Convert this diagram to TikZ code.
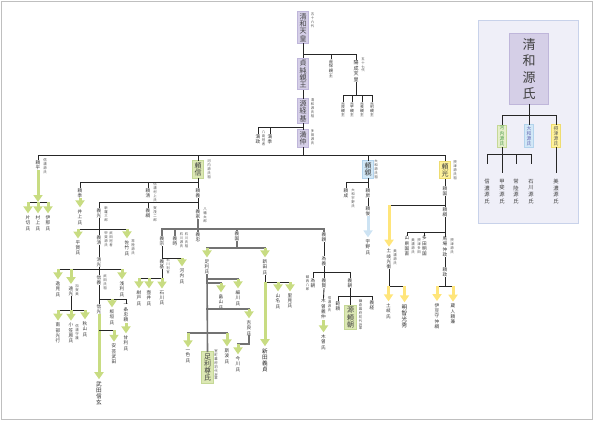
\documentclass[tikz,border=0pt]{standalone}
\usepackage{fontspec}
\setmainfont{Noto Sans CJK JP}
\usetikzlibrary{arrows.meta}
\definecolor{lav}{HTML}{D5CFE7}
\definecolor{lavd}{HTML}{BFB6DA}
\definecolor{grn}{HTML}{DCE8B4}
\definecolor{grnd}{HTML}{C5D896}
\definecolor{blu}{HTML}{D2E8F7}
\definecolor{blud}{HTML}{B3D3EC}
\definecolor{yel}{HTML}{FFF29C}
\definecolor{yeld}{HTML}{EEDC70}
\definecolor{garr}{HTML}{C8DC82}
\definecolor{yarr}{HTML}{FFE57A}
\definecolor{barr}{HTML}{CDE3F3}
\definecolor{panel}{HTML}{EFEFF8}
\definecolor{paneld}{HTML}{C8D2EA}
\makeatletter
\def\vtx#1{\vbox{\lineskiplimit=-20pt\relax\vtx@a#1\relax}}
\def\vtx@a#1{\ifx\relax#1\else\hbox to 1em{\hss#1\hss}\expandafter\vtx@a\fi}
\makeatother
\newcommand\kin[6][ln]{%
  \draw[#1] (#2.south) -- (#2.south |- 0,#3);
  \draw[#1] (#4.center |- 0,#3) -- (#5.center |- 0,#3);
  \foreach \c/\s in {#6}{\edef\kintmp{\noexpand\draw[\s] (\c.center |- 0,#3) -- (\c.north);}\kintmp}%
}
\tikzset{
  ln/.style={draw=black!85, line width=0.85pt, line cap=rect},
  gln/.style={draw=black!55, line width=1.6pt, line cap=rect},
  tk/.style={ln, shorten >=15pt},
  tkm/.style={ln, shorten >=6pt},
  ga/.style={draw=garr, line width=3pt, -{Triangle[width=9pt,length=7pt]}, shorten >=1.5pt},
  ya/.style={ga, draw=yarr},
  ba/.style={ga, draw=barr},
  nm/.style={inner sep=0.5pt, text=black!80, font=\fontsize{4.6}{5.3}\selectfont},
  nt/.style={inner sep=0.3pt, text=black!70, font=\fontsize{3.4}{3.9}\selectfont},
  bg/.style={inner sep=0.5pt, text=black!85, font=\fontsize{5.6}{6}\selectfont},
  pn/.style={inner sep=0.5pt, text=black!75, font=\fontsize{5.3}{6.7}\selectfont},
  bxbase/.style={line width=0.7pt, inner xsep=2.3pt, inner ysep=1.8pt, text=black!75, font=\fontsize{7}{7.3}\selectfont},
  lavbox/.style={bxbase, fill=lav, draw=lavd},
  grnbox/.style={bxbase, fill=grn, draw=grnd},
  blubox/.style={bxbase, fill=blu, draw=blud},
  yelbox/.style={bxbase, fill=yel, draw=yeld},
  smbox/.style={line width=0.6pt, inner xsep=2.2pt, inner ysep=1.2pt, font=\fontsize{4.8}{5.2}\selectfont}
}
\begin{document}
\begin{tikzpicture}[x=1pt,y=-1pt]
\useasboundingbox (0,0) rectangle (594,421);
\draw[black!25, line width=1.4pt] (1.5,1.5) rectangle (592.5,419.5);
% ---------- right panel ----------
\draw[fill=panel, draw=paneld, line width=0.9pt] (478,20) rectangle (578,223);
\node[lavbox, inner xsep=13pt, inner ysep=4.5pt, font=\fontsize{13}{16.5}\selectfont] (genji) at (529,69) {\vtx{清和源氏}};
\node[smbox, fill=grn!70, draw=grnd, text=green!45!black!70] (kawachi) at (502,136) {\vtx{河内源氏}};
\node[smbox, fill=blu, draw=blud, text=blue!50!black!60] (yamato) at (529,136) {\vtx{大和源氏}};
\node[smbox, fill=yel, draw=yeld, text=black!65] (settsu) at (556,136) {\vtx{摂津源氏}};
\node[pn] (shinano) at (487,191.5) {\vtx{信濃源氏}};
\node[pn] (kai) at (502,191.5) {\vtx{甲斐源氏}};
\node[pn] (hitachi) at (516,191.5) {\vtx{常陸源氏}};
\node[pn] (ishikawa) at (531,191.5) {\vtx{石川源氏}};
\node[pn] (mino) at (556,191.5) {\vtx{美濃源氏}};
\kin{genji}{115}{kawachi}{settsu}{kawachi/ln, yamato/ln, settsu/ln}
\kin{kawachi}{154}{shinano}{ishikawa}{shinano/tk, kai/tkm, hitachi/tk, ishikawa/tk}
\draw[tkm] (settsu.south) -- (mino.north);
% ---------- top trunk ----------
\node[lavbox] (seiwa) at (303,27.5) {\vtx{清和天皇}};
\node[nt] (seiwaN) at (312.5,20.5) {\vtx{五十六代}};
\node[lavbox] (sadazumi) at (303,74) {\vtx{貞純親王}};
\node[lavbox] (tsunemoto) at (303,111) {\vtx{源経基}};
\node[nt] (tsunemotoN) at (312.5,108) {\vtx{清和源氏祖}};
\node[lavbox] (mitsunaka) at (303,138.5) {\vtx{満仲}};
\node[nt] (mitsunakaN) at (312.5,137) {\vtx{多田源氏}};
\node[nm, font=\fontsize{4.2}{4.6}\selectfont] (sadayasu) at (331,68.5) {\vtx{貞保親王}};
\node[nm, font=\fontsize{5}{5.5}\selectfont] (yozei) at (356,71) {\vtx{陽成天皇}};
\node[nt] (yozeiN) at (363,65) {\vtx{五十七代}};
\node[nm, font=\fontsize{3.8}{3.9}\selectfont] (moto1) at (343,109.5) {\vtx{元良親王}};
\node[nm, font=\fontsize{3.8}{3.9}\selectfont] (moto2) at (352,109.5) {\vtx{元平親王}};
\node[nm, font=\fontsize{3.8}{3.9}\selectfont] (moto3) at (362,109.5) {\vtx{元長親王}};
\node[nm, font=\fontsize{3.8}{3.9}\selectfont] (moto4) at (372,109.5) {\vtx{元利親王}};
\node[nm] (mitsumasa) at (258,139) {\vtx{満政}};
\node[nt] (mitsumasaN) at (263.5,138) {\vtx{八島冠者}};
\node[nm] (mitsusue) at (270,139) {\vtx{満季}};
\kin{seiwa}{54}{sadazumi}{yozei}{sadazumi/ln, sadayasu/ln, yozei/ln}
\kin{yozei}{95}{moto1}{moto4}{moto1/ln, moto2/ln, moto3/ln, moto4/ln}
\draw[ln] (sadazumi.south) -- (tsunemoto.north);
\kin{tsunemoto}{127}{mitsumasa}{tsunemoto}{mitsumasa/ln, mitsusue/ln, mitsunaka/ln}
% ---------- sons of Mitsunaka ----------
\node[nm] (yorihira) at (38,165) {\vtx{頼平}};
\node[nt] (yorihiraN) at (45,166) {\vtx{信濃源氏}};
\node[grnbox] (yorinobu) at (198,169.5) {\vtx{頼信}};
\node[nt] (yorinobuN) at (209,169) {\vtx{河内源氏祖}};
\node[blubox] (yorichika) at (368,169.5) {\vtx{頼親}};
\node[nt] (yorichikaN) at (376,169) {\vtx{大和源氏祖}};
\node[yelbox] (yorimitsu) at (445,170) {\vtx{頼光}};
\node[nt] (yorimitsuN) at (455,170) {\vtx{摂津源氏祖}};
\kin{mitsunaka}{155}{yorihira}{yorimitsu}{yorihira/ln, yorinobu/ln, yorichika/ln, yorimitsu/ln}
% leftmost branch
\coordinate (yhb) at (38,202);
\node[nm] (katagiri) at (28,223) {\vtx{片切氏}};
\node[nm] (murakami) at (38,223) {\vtx{村上氏}};
\node[nm] (ina) at (48,223) {\vtx{伊那氏}};
\draw[ga, shorten >=0pt] (yorihira.south) -- (yhb);
\draw[ln] (katagiri.center |- yhb) -- (ina.center |- yhb);
\draw[ga] (katagiri.center |- yhb) -- (katagiri.north);
\draw[ga] (murakami.center |- yhb) -- (murakami.north);
\draw[ga] (ina.center |- yhb) -- (ina.north);
% ---------- Kawachi ----------
\node[nm] (yorisue) at (80,193) {\vtx{頼季}};
\node[nm] (inoue) at (80,217) {\vtx{井上氏}};
\node[nm] (yorikiyo) at (148,193) {\vtx{頼清}};
\node[nt] (yorikiyoN) at (155,192) {\vtx{信濃村上氏}};
\node[nm] (yoriyoshi) at (198,193) {\vtx{頼義}};
\kin{yorinobu}{182}{yorisue}{yoriyoshi}{yorisue/ln, yorikiyo/ln, yoriyoshi/ln}
\draw[ga] (yorisue.south) -- (inoue.north);
\node[nm] (yoshimitsu) at (99,213) {\vtx{義光}};
\node[nt] (yoshimitsuN) at (106,214) {\vtx{新羅三郎}};
\node[nm] (yoshitsuna) at (148,213) {\vtx{義綱}};
\node[nt] (yoshitsunaN) at (155,214) {\vtx{賀茂二郎}};
\node[nm] (yoshiie) at (198,214) {\vtx{義家}};
\node[nt] (yoshiieN) at (205,215) {\vtx{八幡太郎}};
\kin{yoriyoshi}{202}{yoshimitsu}{yoshiie}{yoshimitsu/ln, yoshitsuna/ln, yoshiie/ln}
% Yoshimitsu line
\node[nm] (hiraga) at (78,248) {\vtx{平賀氏}};
\node[nm] (yoshikiyo) at (99,240) {\vtx{義清}};
\node[nt] (yoshikiyoN) at (106,239) {\vtx{甲斐源氏}};
\node[nt] (yoshikiyoM) at (111,239) {\vtx{武田冠者}};
\node[nm] (satake) at (127,248) {\vtx{佐竹氏}};
\node[nt] (satakeN) at (133,247) {\vtx{常陸源氏}};
\kin{yoshimitsu}{229}{hiraga}{satake}{hiraga/ga, yoshikiyo/ln, satake/ga}
\node[nm] (kiyomitsu) at (99,262) {\vtx{清光}};
\draw[ln] (yoshikiyo.south) -- (kiyomitsu.north);
\node[nm] (henmi) at (58,289) {\vtx{逸見氏}};
\node[nm] (kagami) at (71,291) {\vtx{遠光}};
\node[nt] (kagamiN) at (77,290) {\vtx{加賀美}};
\node[nm] (nobuyoshi) at (99,280) {\vtx{信義}};
\node[nt] (nobuyoshiN) at (105,282) {\vtx{武田氏祖}};
\node[nm] (asari) at (122,289) {\vtx{浅利氏}};
\kin{kiyomitsu}{269}{henmi}{asari}{henmi/ga, kagami/ga, nobuyoshi/ln, asari/ga}
\node[nm] (nanbu) at (58,333) {\vtx{南部光行}};
\node[nm] (ogasawara) at (71,333) {\vtx{小笠原氏}};
\node[nt] (ogasawaraN) at (77,332) {\vtx{信濃守護}};
\node[nm] (akiyama) at (85,329) {\vtx{秋山氏}};
\kin{kagami}{310}{nanbu}{akiyama}{nanbu/ga, ogasawara/ga, akiyama/ga}
\node[nm] (nobumitsu) at (99,309) {\vtx{信光}};
\node[nm] (itagaki) at (112,317) {\vtx{板垣氏}};
\node[nm] (ichijo) at (126,313) {\vtx{一条忠頼}};
\node[nm] (amari) at (126,343) {\vtx{甘利氏}};
\kin{nobuyoshi}{299}{nobumitsu}{ichijo}{nobumitsu/ln, itagaki/ga, ichijo/ln}
\draw[ga] (ichijo.south) -- (amari.north);
\node[bg] (shingen) at (99,393) {\vtx{武田信玄}};
\node[nm] (aki) at (114,354) {\vtx{安芸武田}};
\draw[ga] (nobumitsu.south) -- (shingen.north);
\draw[ln] (nobumitsu.south |- 0,330) -- (aki.center |- 0,330);
\draw[ga] (aki.center |- 0,330) -- (aki.north);
% Yoshiie line
\node[nm] (yoshimune) at (162,241) {\vtx{義宗}};
\node[nm] (yoshitoki) at (175,241) {\vtx{義時}};
\node[nt] (yoshitokiN) at (181.5,240) {\vtx{石川源氏}};
\node[nt] (yoshitokiM) at (186.5,240) {\vtx{石川氏祖}};
\node[nm] (yoshitada) at (198,237) {\vtx{義忠}};
\node[nm] (yoshikuni) at (237,236) {\vtx{義国}};
\node[nm] (yoshichika) at (324,237) {\vtx{義親}};
\kin[gln]{yoshiie}{229}{yoshimune}{yoshichika}{yoshimune/gln, yoshitoki/gln, yoshitada/gln, yoshikuni/gln, yoshichika/gln}
\node[nm] (yoshimoto) at (162,264) {\vtx{義基}};
\node[nt] (yoshimotoN) at (168,266) {\vtx{石川判官}};
\node[nm] (kawachiuji) at (182,276) {\vtx{河内氏}};
\kin{yoshimune}{258}{yoshimoto}{kawachiuji}{yoshimoto/ln, kawachiuji/ga}
\node[nm] (konto) at (139,298) {\vtx{紺戸氏}};
\node[nm] (tsuboi) at (149,298) {\vtx{壺井氏}};
\node[nm] (ishikawauji) at (162,298) {\vtx{石川氏}};
\kin{yoshimoto}{278}{konto}{ishikawauji}{konto/ga, tsuboi/ga, ishikawauji/ga}
% Yoshikuni: Ashikaga and Nitta
\node[nm] (ashikaga) at (207,267) {\vtx{足利氏}};
\node[nm] (nitta) at (265,267) {\vtx{新田氏}};
\kin[gln]{yoshikuni}{248}{ashikaga}{nitta}{ashikaga/ga, nitta/ga}
\node[grnbox] (takauji) at (207.5,367.5) {\vtx{足利尊氏}};
\node[nt] (takaujiN) at (216,365) {\vtx{室町幕府初代将軍}};
\node[nm] (hatakeyama) at (221,302) {\vtx{畠山氏}};
\node[nm] (hosokawa) at (238,298) {\vtx{細川氏}};
\node[nm] (kira) at (249,328) {\vtx{吉良氏}};
\node[nm] (imagawa) at (238,364) {\vtx{今川氏}};
\node[nm] (isshiki) at (188,356) {\vtx{一色氏}};
\node[nm] (shiba) at (227,356) {\vtx{斯波氏}};
\draw[gln] (ashikaga.south) -- (takauji.north);
\draw[gln] (ashikaga.center |- 0,279) -- (hosokawa.center |- 0,279);
\draw[ga] (hosokawa.center |- 0,279) -- (hosokawa.north);
\draw[gln] (ashikaga.center |- 0,283) -- (hatakeyama.center |- 0,283);
\draw[ga] (hatakeyama.center |- 0,283) -- (hatakeyama.north);
\draw[gln] (ashikaga.center |- 0,309) -- (kira.center |- 0,309);
\draw[ga] (kira.center |- 0,309) -- (kira.north);
\draw[gln] (isshiki.center |- 0,333) -- (shiba.center |- 0,333);
\draw[ga] (isshiki.center |- 0,333) -- (isshiki.north);
\draw[ga] (shiba.center |- 0,333) -- (shiba.north);
\kin[gln]{kira}{344}{imagawa}{kira}{imagawa/ga}
\node[nm] (yamana) at (278,301) {\vtx{山名氏}};
\node[nm] (satomi) at (290,301) {\vtx{里見氏}};
\node[bg] (yoshisada) at (265,360) {\vtx{新田義貞}};
\kin{nitta}{282}{nitta}{satomi}{yamana/ga, satomi/ga, yoshisada/ga}
% Yoshichika line
\node[nm] (tameyoshi) at (324,261) {\vtx{為義}};
\draw[ln] (yoshichika.south) -- (tameyoshi.north);
\node[nm] (tametomo) at (313,283) {\vtx{為朝}};
\node[nt] (tametomoN) at (307.5,283) {\vtx{鎮西八郎}};
\node[nm] (yoshikata) at (324,283) {\vtx{義賢}};
\node[nm] (yoshitomo) at (350,283) {\vtx{義朝}};
\kin{tameyoshi}{272}{tametomo}{yoshitomo}{tametomo/ln, yoshikata/ln, yoshitomo/ln}
\node[nm] (yoshinaka) at (323.5,309) {\vtx{木曽義仲}};
\node[nt] (yoshinakaN) at (329.5,304) {\vtx{信濃源氏}};
\node[nm] (kiso) at (323.5,342) {\vtx{木曽氏}};
\draw[ln] (yoshikata.south) -- (yoshinaka.north);
\draw[ga] (yoshinaka.south) -- (kiso.north);
\node[nm] (noriyori) at (338,306) {\vtx{範頼}};
\node[grnbox] (yoritomo) at (350.5,317.5) {\vtx{源頼朝}};
\node[nt] (yoritomoN) at (360.5,315) {\vtx{鎌倉幕府初代将軍}};
\node[nm] (yoshitsune) at (372,305) {\vtx{義経}};
\kin{yoshitomo}{296}{noriyori}{yoshitsune}{noriyori/ln, yoritomo/ln, yoshitsune/ln}
% ---------- Yamato ----------
\node[nm] (yorinari) at (346,193) {\vtx{頼成}};
\node[nt] (yorinariN) at (353,198) {\vtx{大和宇野氏}};
\node[nm] (yorifusa) at (368,193) {\vtx{頼房}};
\kin{yorichika}{182}{yorinari}{yorichika}{yorinari/ln, yorifusa/ln}
\node[nm] (yoritoshi) at (368,211) {\vtx{頼俊}};
\node[nm] (uno) at (368,247) {\vtx{宇野氏}};
\draw[ln] (yorifusa.south) -- (yoritoshi.north);
\draw[ba] (yoritoshi.south) -- (uno.north);
% ---------- Settsu ----------
\node[nm] (yorikuni) at (445,191) {\vtx{頼国}};
\draw[ln] (yorimitsu.south) -- (yorikuni.north);
\node[nm] (mitsuhira) at (389,259) {\vtx{土岐光衡}};
\node[nt] (mitsuhiraN) at (395,257) {\vtx{美濃源氏}};
\node[nm] (yoritsuna) at (445,212) {\vtx{頼綱}};
\kin{yorikuni}{205}{mitsuhira}{yoritsuna}{mitsuhira/ya, yoritsuna/ln}
\node[nm] (kuninao) at (407,246) {\vtx{山県国直}};
\node[nt] (kuninaoN) at (413,246) {\vtx{美濃源氏}};
\node[nt] (akikuniN) at (419,246) {\vtx{摂津多田}};
\node[nm] (akikuni) at (424.5,246) {\vtx{多田明国}};
\node[nm] (nakamasa) at (445,247) {\vtx{馬場仲政}};
\node[nt] (nakamasaN) at (452,246) {\vtx{摂津源氏}};
\kin{yoritsuna}{232}{kuninao}{nakamasa}{kuninao/ln, akikuni/ln, nakamasa/ln}
\node[nm] (yorimasa) at (445,272) {\vtx{頼政}};
\draw[ln] (nakamasa.south) -- (yorimasa.north);
\node[nm] (nakatsuna) at (437,316) {\vtx{伊豆守仲綱}};
\node[nm] (yorikane) at (453,314) {\vtx{蔵人頼兼}};
\kin{yorimasa}{286}{nakatsuna}{yorikane}{nakatsuna/ya, yorikane/ya}
\node[nm] (tokiuji) at (388.5,311) {\vtx{土岐氏}};
\node[bg] (akechi) at (404.5,316) {\vtx{明智光秀}};
\kin{mitsuhira}{286}{tokiuji}{akechi}{tokiuji/ya, akechi/ya}
\end{tikzpicture}
\end{document}
